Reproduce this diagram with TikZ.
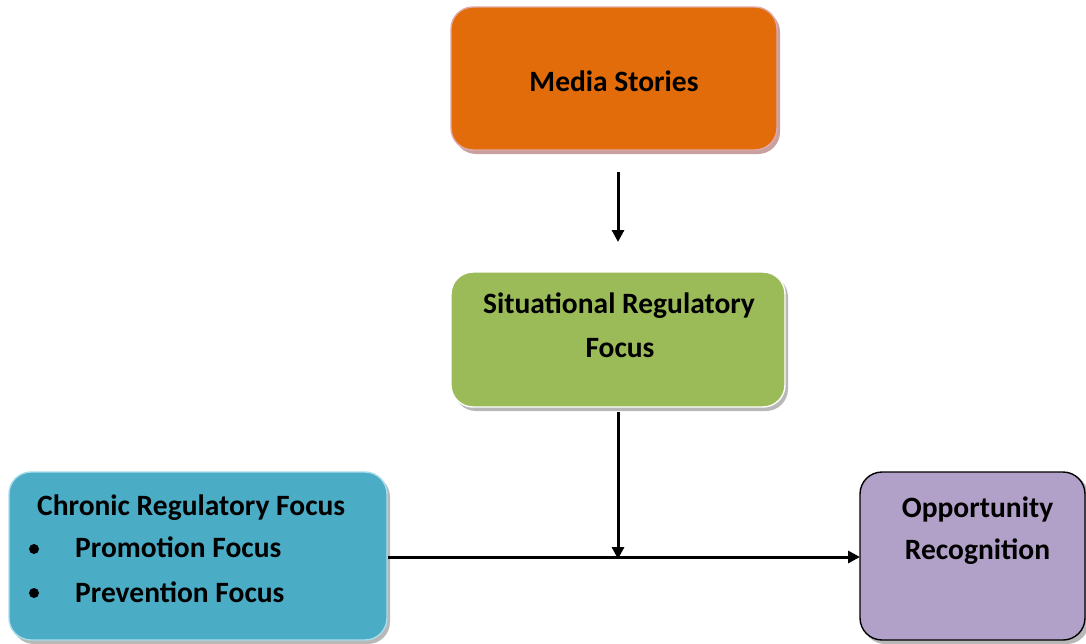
\documentclass[tikz,border=0pt]{standalone}
\usepackage{fontspec}
\setmainfont{Carlito}
\usetikzlibrary{arrows.meta}
\definecolor{orangeF}{HTML}{E36C0A}
\definecolor{orangeB}{HTML}{E0A8A8}
\definecolor{greenF}{HTML}{9BBB59}
\definecolor{blueF}{HTML}{4BACC6}
\definecolor{blueB}{HTML}{A9DCEA}
\definecolor{purpleF}{HTML}{B1A0C7}
\definecolor{shadowC}{HTML}{B8B8B8}
\definecolor{shadowP}{HTML}{C9A0A0}
\tikzset{
  box/.style={rounded corners=22pt, line width=1.4pt, inner sep=0pt},
  lbl/.style={font=\fontsize{29.5}{43}\selectfont\bfseries, inner sep=0pt, text=black},
  conn/.style={line width=3pt, -{Triangle[length=12pt,width=12pt]}},
  bullet/.style={circle, fill=black, inner sep=0pt, minimum size=10pt}
}
\begin{document}
\begin{tikzpicture}[x=1pt,y=-1pt]
\useasboundingbox (0,0) rectangle (1086,643);
\begin{scope}
\clip (0,0) rectangle (1086,643);
% shadows
\fill[shadowP, rounded corners=22pt] (454,10) rectangle (780,154);
\fill[shadowC, rounded corners=22pt] (454,275) rectangle (788,411);
\fill[shadowC, rounded corners=22pt] (12,475) rectangle (390,644);
\fill[shadowC, rounded corners=22pt] (863,475) rectangle (1089,644);
% boxes
\draw[box, fill=orangeF, draw=orangeB] (451,7) rectangle (777,150);
\draw[box, fill=greenF, draw=white] (451,272) rectangle (785,407);
\draw[box, fill=blueF, draw=blueB] (9,472) rectangle (387,640);
\draw[box, fill=purpleF, draw=black] (860,472) rectangle (1085,640);
\end{scope}
% named anchor points
\coordinate (mediaB) at (618,172);
\coordinate (sitT) at (618,242);
\coordinate (sitB) at (618,412);
\coordinate (junc) at (618,557);
\coordinate (chrR) at (388,557);
\coordinate (oppL) at (860,557);
% texts
\node[lbl, anchor=base] (media) at (614,91) {Media Stories};
\node[lbl, anchor=base] (sit1) at (619,313) {Situational Regulatory};
\node[lbl, anchor=base] (sit2) at (620,357) {Focus};
\node[lbl, anchor=base west] (chr1) at (37,515) {Chronic Regulatory Focus};
\node[bullet] (b1) at (34,549) {};
\node[lbl, anchor=base west] (chr2) at (75,557) {Promotion Focus};
\node[bullet] (b2) at (34,593) {};
\node[lbl, anchor=base west] (chr3) at (75,602) {Prevention Focus};
\node[lbl, anchor=base] (opp1) at (977.5,517) {Opportunity};
\node[lbl, anchor=base] (opp2) at (977.5,559) {Recognition};
% connectors
\draw[conn] (mediaB) -- (sitT);
\draw[conn] (sitB) -- ([yshift=-2pt]junc);
\draw[conn] (chrR) -- (oppL);
\end{tikzpicture}
\end{document}
